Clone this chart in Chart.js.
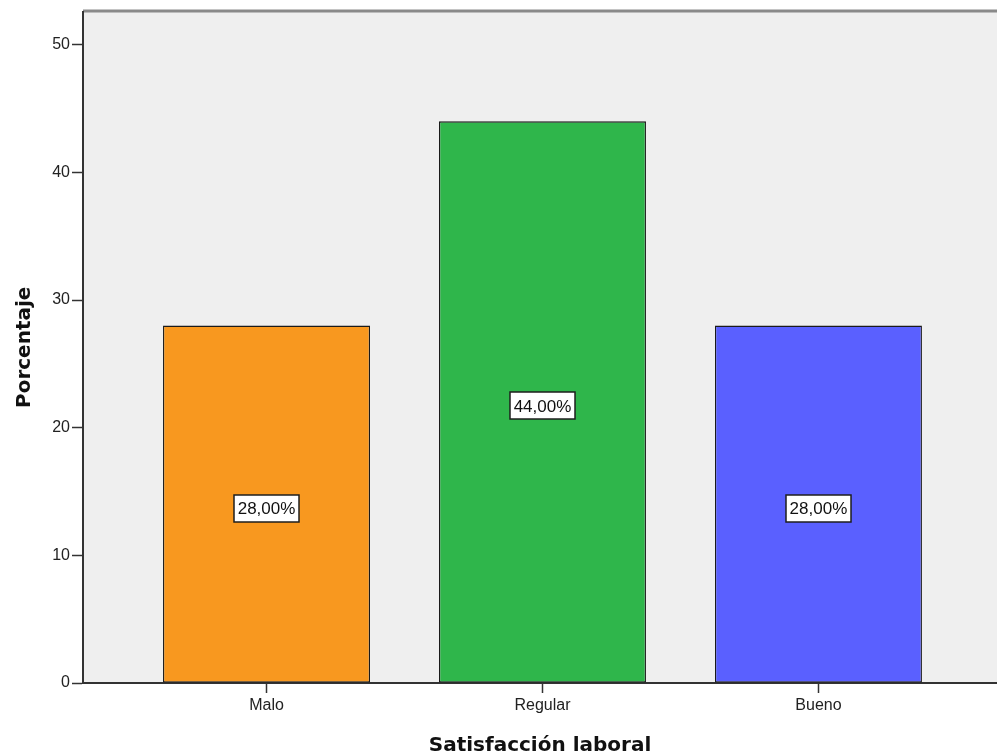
<!DOCTYPE html>
<html>
<head>
<meta charset="utf-8">
<script src="https://cdn.jsdelivr.net/npm/chart.js@4/dist/chart.umd.min.js"></script>
<style>
  html, body { margin: 0; padding: 0; background: #ffffff; overflow: hidden; }
  #wrap { position: relative; width: 997px; height: 756px; }
</style>
</head>
<body>
<div id="wrap"><canvas id="chart"></canvas></div>
<script>
// Satisfacción laboral: percentage of respondents per level
const categories = ['Malo', 'Regular', 'Bueno'];
const percentages = [28, 44, 28];
const barColors = ['#F8981F', '#2FB64B', '#5A60FF'];
const yTicks = [0, 10, 20, 30, 40, 50];

const points = categories.map((c, i) => ({ x: i, y: percentages[i] }));

// light grey plot panel with a grey top rule
const panelPlugin = {
  id: 'panel',
  beforeDraw(chart) {
    const { ctx, chartArea: a } = chart;
    ctx.save();
    ctx.fillStyle = '#EFEFEF';
    ctx.fillRect(a.left, a.top, a.right - a.left, a.bottom - a.top);
    ctx.strokeStyle = '#8A8A8A';
    ctx.lineWidth = 3;
    ctx.beginPath();
    ctx.moveTo(a.left, a.top - 0.5);
    ctx.lineTo(a.right, a.top - 0.5);
    ctx.stroke();
    ctx.restore();
  }
};

// boxed percentage label in the middle of each bar
const valueBoxPlugin = {
  id: 'valueBox',
  afterDatasetsDraw(chart) {
    const { ctx } = chart;
    const meta = chart.getDatasetMeta(0);
    ctx.save();
    ctx.font = '17px "Liberation Sans", Arial, sans-serif';
    ctx.textAlign = 'center';
    ctx.textBaseline = 'middle';
    meta.data.forEach((bar, i) => {
      const text = percentages[i].toFixed(2).replace('.', ',') + '%';
      const w = ctx.measureText(text).width + 7;
      const h = 27;
      const cx = bar.x;
      const cy = (bar.y + bar.base) / 2 + 4;
      ctx.fillStyle = '#ffffff';
      ctx.fillRect(Math.round(cx - w / 2), Math.round(cy - h / 2), Math.round(w), h);
      ctx.strokeStyle = '#1e1e1e';
      ctx.lineWidth = 1.5;
      ctx.strokeRect(Math.round(cx - w / 2), Math.round(cy - h / 2), Math.round(w), h);
      ctx.fillStyle = '#111111';
      ctx.fillText(text, cx, cy + 1);
    });
    ctx.restore();
  }
};

new Chart(document.getElementById('chart'), {
  type: 'bar',
  data: {
    datasets: [{
      data: points,
      backgroundColor: barColors,
      borderColor: '#1a1a1a',
      borderWidth: 1.3,
      borderSkipped: false,
      barPercentage: 0.75,
      categoryPercentage: 1
    }]
  },
  options: {
    responsive: true,
    maintainAspectRatio: false,
    animation: false,
    layout: { padding: { top: 10, right: 0, bottom: 0, left: 0 } },
    plugins: {
      legend: { display: false },
      tooltip: { enabled: false }
    },
    scales: {
      x: {
        type: 'linear',
        offset: false,
        min: -0.665,
        max: 2.647,
        afterBuildTicks(scale) {
          scale.ticks = categories.map((c, i) => ({ value: i }));
        },
        afterFit(scale) { scale.height = 73; },
        ticks: {
          callback: (v) => categories[v],
          font: { family: '"Liberation Sans", Arial, sans-serif', size: 16 },
          color: '#222222',
          padding: 3,
          maxRotation: 0
        },
        grid: {
          offset: false,
          drawOnChartArea: false,
          drawTicks: true,
          tickLength: 10,
          tickColor: '#333333',
          tickWidth: 1.5
        },
        border: { display: true, color: '#333333', width: 2 },
        title: {
          display: true,
          text: 'Satisfacción laboral',
          font: { family: '"DejaVu Sans", Verdana, sans-serif', size: 20, weight: 'bold', lineHeight: 1 },
          color: '#111111',
          padding: { top: 0, bottom: 0.5 }
        }
      },
      y: {
        min: 0,
        max: 52.6,
        afterBuildTicks(scale) {
          scale.ticks = yTicks.map(v => ({ value: v }));
        },
        afterFit(scale) { scale.width = 83; },
        ticks: {
          font: { family: '"Liberation Sans", Arial, sans-serif', size: 16 },
          color: '#222222',
          padding: 2
        },
        grid: {
          drawOnChartArea: false,
          drawTicks: true,
          tickLength: 11,
          tickColor: '#333333',
          tickWidth: 1.5
        },
        border: { display: true, color: '#333333', width: 2 },
        title: {
          display: true,
          text: 'Porcentaje',
          font: { family: '"DejaVu Sans", Verdana, sans-serif', size: 20, weight: 'bold', lineHeight: 1 },
          color: '#111111',
          padding: { top: 15, bottom: 0 }
        }
      }
    }
  },
  plugins: [panelPlugin, valueBoxPlugin]
});
</script>
</body>
</html>
